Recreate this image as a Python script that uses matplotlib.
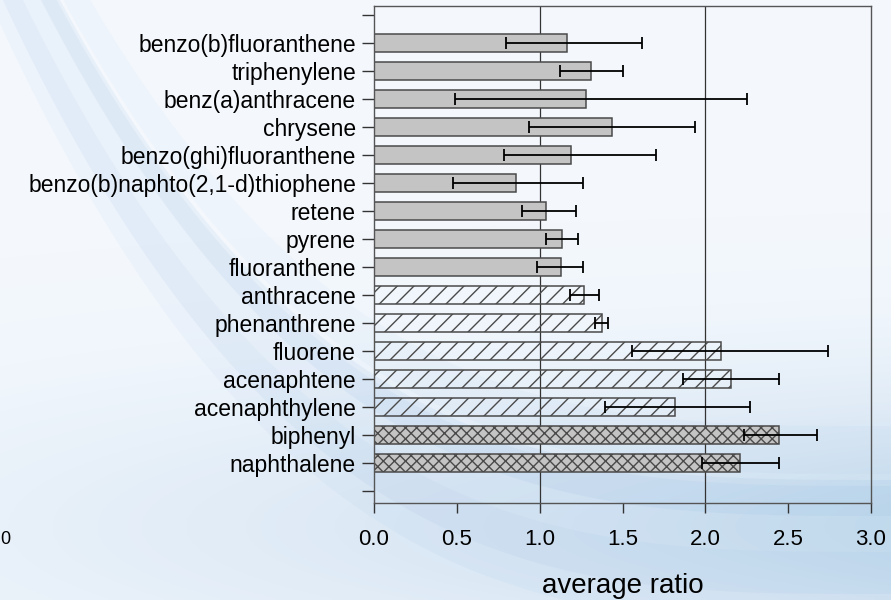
import numpy as np
import matplotlib
matplotlib.use("Agg")
import matplotlib.pyplot as plt

plt.rcParams['font.family'] = ['Liberation Sans', 'DejaVu Sans']
plt.rcParams['hatch.linewidth'] = 1.0
plt.rcParams['hatch.color'] = '#333333'

# data, bottom to top
compounds = ['naphthalene', 'biphenyl', 'acenaphthylene', 'acenaphtene', 'fluorene',
             'phenanthrene', 'anthracene', 'fluoranthene', 'pyrene', 'retene',
             'benzo(b)naphto(2,1-d)thiophene', 'benzo(ghi)fluoranthene', 'chrysene',
             'benz(a)anthracene', 'triphenylene', 'benzo(b)fluoranthene']
ratio = [2.21, 2.445, 1.817, 2.155, 2.097, 1.374, 1.27, 1.129, 1.133, 1.036,
         0.857, 1.191, 1.436, 1.279, 1.308, 1.168]
err_low = [1.98, 2.233, 1.394, 1.865, 1.555, 1.332, 1.185, 0.986, 1.038, 0.891,
           0.477, 0.785, 0.935, 0.491, 1.122, 0.797]
err_high = [2.443, 2.672, 2.272, 2.447, 2.742, 1.414, 1.36, 1.264, 1.231, 1.217,
            1.264, 1.702, 1.939, 2.253, 1.505, 1.619]
group = ['c', 'c', 'h', 'h', 'h', 'h', 'h', 'g', 'g', 'g', 'g', 'g', 'g', 'g', 'g', 'g']
grid_x = [1.0, 2.0]

styles = {'g': dict(color='#c4c4c4', hatch=None),
          'h': dict(color='none', hatch='//'),
          'c': dict(color='#c4c4c4', hatch='xxx')}

fig = plt.figure(figsize=(8.91, 6), dpi=100)
fig.patch.set_facecolor('#f0f5fb')

# slide-like background
bg = fig.add_axes([0, 0, 1, 1], zorder=-10)
bg.set_xlim(0, 1)
bg.set_ylim(0, 1)
bg.axis('off')
gx, gy = np.meshgrid(np.linspace(0, 1, 200), np.linspace(0, 1, 200))
grad = np.exp(-((gy - 0.12) / 0.25) ** 2) * (0.3 + 0.7 * gx)
bg.imshow(grad, extent=[0, 1, 0, 1], origin='lower', cmap='Blues', vmin=0, vmax=3.0,
          aspect='auto', alpha=0.6)
t = np.linspace(0, 1, 300)
for off, w, a in [(0.0, 0.09, 0.10), (0.07, 0.03, 0.12), (-0.08, 0.06, 0.07), (0.15, 0.04, 0.06)]:
    yc = 0.1 + 1.0 * (1 - t) ** 3.2 + off
    bg.fill_between(t, yc - w, yc + w, color='#8fb6e0', alpha=a, lw=0)

ax = fig.add_axes([374 / 891, 1 - 503 / 600, 497 / 891, 497 / 600])
ax.patch.set_alpha(0)

y = np.arange(len(compounds))
for i in range(len(compounds)):
    st = styles[group[i]]
    ax.barh(y[i], ratio[i], height=0.63, color=st['color'], hatch=st['hatch'],
            edgecolor='#4a4a4a', linewidth=1.1, zorder=2)

lo = np.array(ratio) - np.array(err_low)
hi = np.array(err_high) - np.array(ratio)
ax.errorbar(ratio, y, xerr=[lo, hi], fmt='none', ecolor='black', elinewidth=1.3,
            capsize=4, capthick=1.3, zorder=3)

for gxv in grid_x:
    ax.axvline(gxv, color='#333333', lw=0.9, zorder=1)

ax.set_xlim(0, 3.0)
ax.set_ylim(-1.43, 16.32)
ax.set_xticks(np.arange(0, 3.01, 0.5))
ax.set_xticklabels([f'{v:.1f}' for v in np.arange(0, 3.01, 0.5)], fontsize=16)
ax.set_yticks(np.arange(-1, 17))
ax.set_yticklabels([''] + compounds + [''], fontsize=16.5)
ax.tick_params(axis='y', length=9, width=1, pad=4, color='#333333')
ax.tick_params(axis='x', length=7, width=1, pad=12, color='#333333')
for sp in ax.spines.values():
    sp.set_color('#555555')
    sp.set_linewidth(1.0)

ax.set_xlabel('average ratio', fontsize=20, labelpad=16)

fig.text(0.0, 1 - 540 / 600, '0', fontsize=13, va='center')

plt.savefig('out.png', dpi=100, facecolor=fig.get_facecolor())
